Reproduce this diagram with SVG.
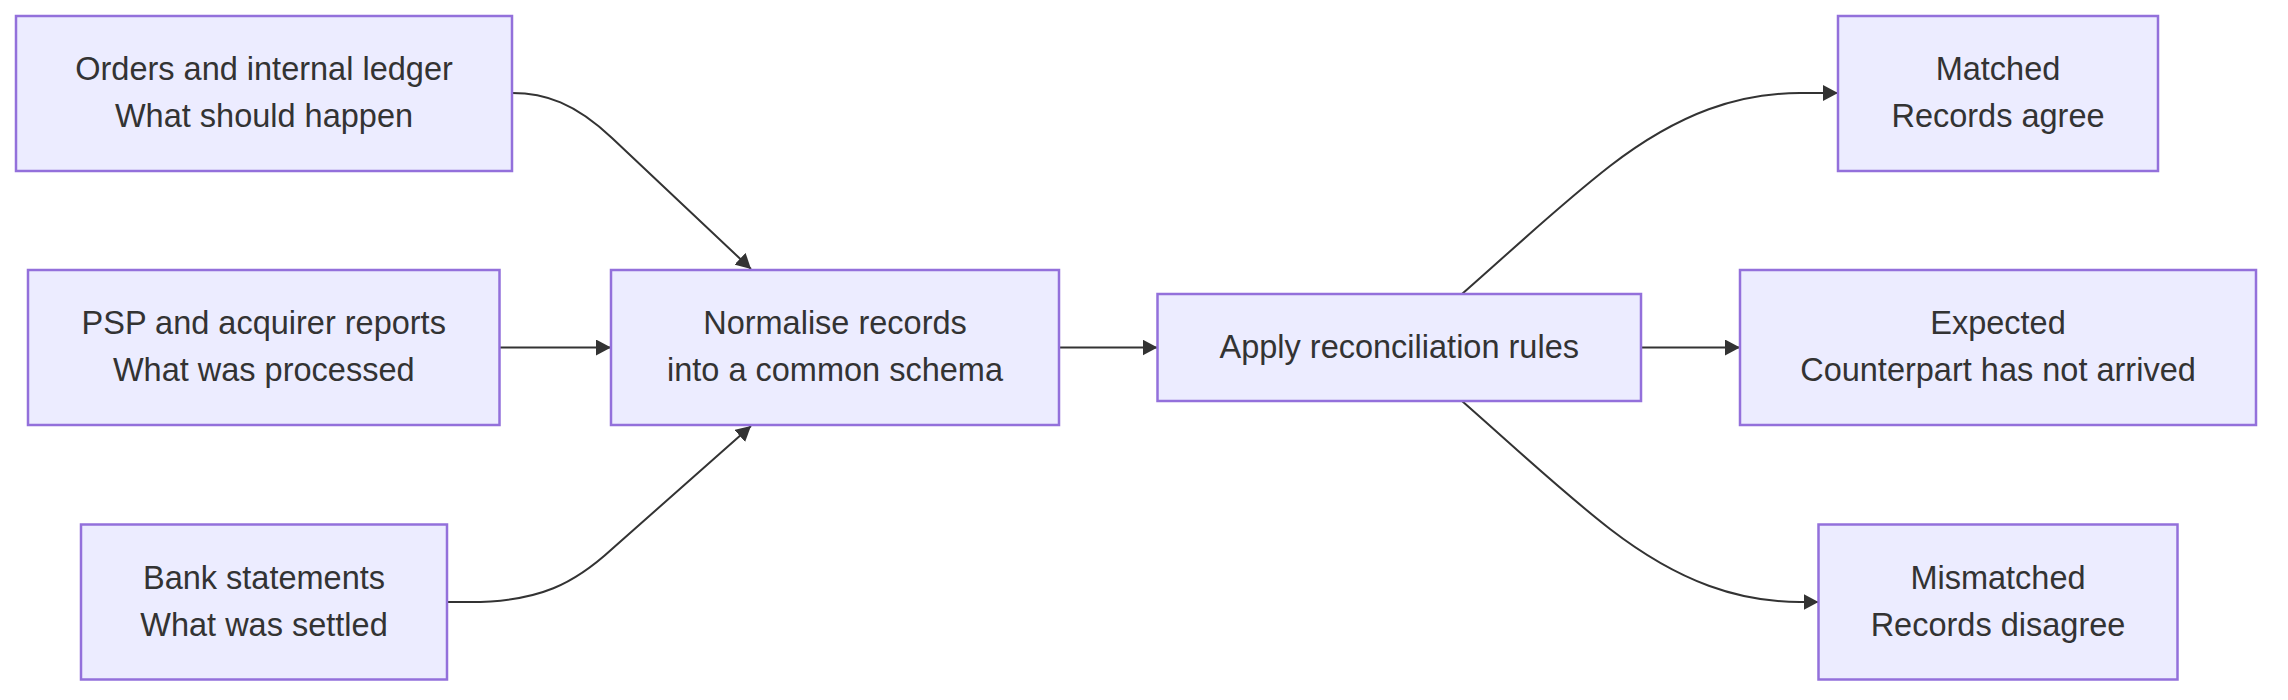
<svg xmlns="http://www.w3.org/2000/svg" width="2288" height="700" viewBox="0 0 2288 700">
<style>
.node rect{fill:#ECECFF;stroke:#9370DB;stroke-width:2.5}
.node text{font-family:"Liberation Sans",Arial,sans-serif;font-size:32.5px;fill:#333;text-anchor:middle}
.edge{fill:none;stroke:#333;stroke-width:2}
</style>
<defs>
<marker id="arrow" viewBox="0 0 10 10" refX="10" refY="5" markerUnits="userSpaceOnUse" markerWidth="15" markerHeight="16" preserveAspectRatio="none" orient="auto">
<path d="M0,0 L10,5 L0,10 z" fill="#333"/>
</marker>
</defs>
<rect width="2288" height="700" fill="#fff"/>
<g id="connectors">
<path class="edge" d="M512,93 C545,93 575,103 612,138 L751,269" marker-end="url(#arrow)"/>
<path class="edge" d="M499.5,347.5 L611,347.5" marker-end="url(#arrow)"/>
<path class="edge" d="M447,602 L470,602 C540,602 575,583 612,549 L751,426" marker-end="url(#arrow)"/>
<path class="edge" d="M1059,347.5 L1157.5,347.5" marker-end="url(#arrow)"/>
<path class="edge" d="M1462,294 C1530,234 1560,205 1610,166 C1680,112 1740,93 1800,93 L1838,93" marker-end="url(#arrow)"/>
<path class="edge" d="M1641,347.5 L1740,347.5" marker-end="url(#arrow)"/>
<path class="edge" d="M1462,401 C1530,461 1560,490 1610,529 C1680,583 1740,602 1800,602 L1818.5,602" marker-end="url(#arrow)"/>
</g>
<g id="orders" class="node">
<rect x="16" y="16" width="496" height="155"/>
<text x="264" y="80">Orders and internal ledger</text>
<text x="264" y="127">What should happen</text>
</g>
<g id="psp" class="node">
<rect x="28" y="270" width="471.5" height="155"/>
<text x="263.75" y="334">PSP and acquirer reports</text>
<text x="263.75" y="381">What was processed</text>
</g>
<g id="bank" class="node">
<rect x="81" y="524.5" width="366" height="155"/>
<text x="264" y="588.5">Bank statements</text>
<text x="264" y="635.5">What was settled</text>
</g>
<g id="normalise" class="node">
<rect x="611" y="270" width="448" height="155"/>
<text x="835" y="334">Normalise records</text>
<text x="835" y="381">into a common schema</text>
</g>
<g id="apply" class="node">
<rect x="1157.5" y="294" width="483.5" height="107"/>
<text x="1399.25" y="357.5">Apply reconciliation rules</text>
</g>
<g id="matched" class="node">
<rect x="1838" y="16" width="320" height="155"/>
<text x="1998" y="80">Matched</text>
<text x="1998" y="127">Records agree</text>
</g>
<g id="expected" class="node">
<rect x="1740" y="270" width="516" height="155"/>
<text x="1998" y="334">Expected</text>
<text x="1998" y="381">Counterpart has not arrived</text>
</g>
<g id="mismatched" class="node">
<rect x="1818.5" y="524.5" width="359" height="155"/>
<text x="1998" y="588.5">Mismatched</text>
<text x="1998" y="635.5">Records disagree</text>
</g>
</svg>
